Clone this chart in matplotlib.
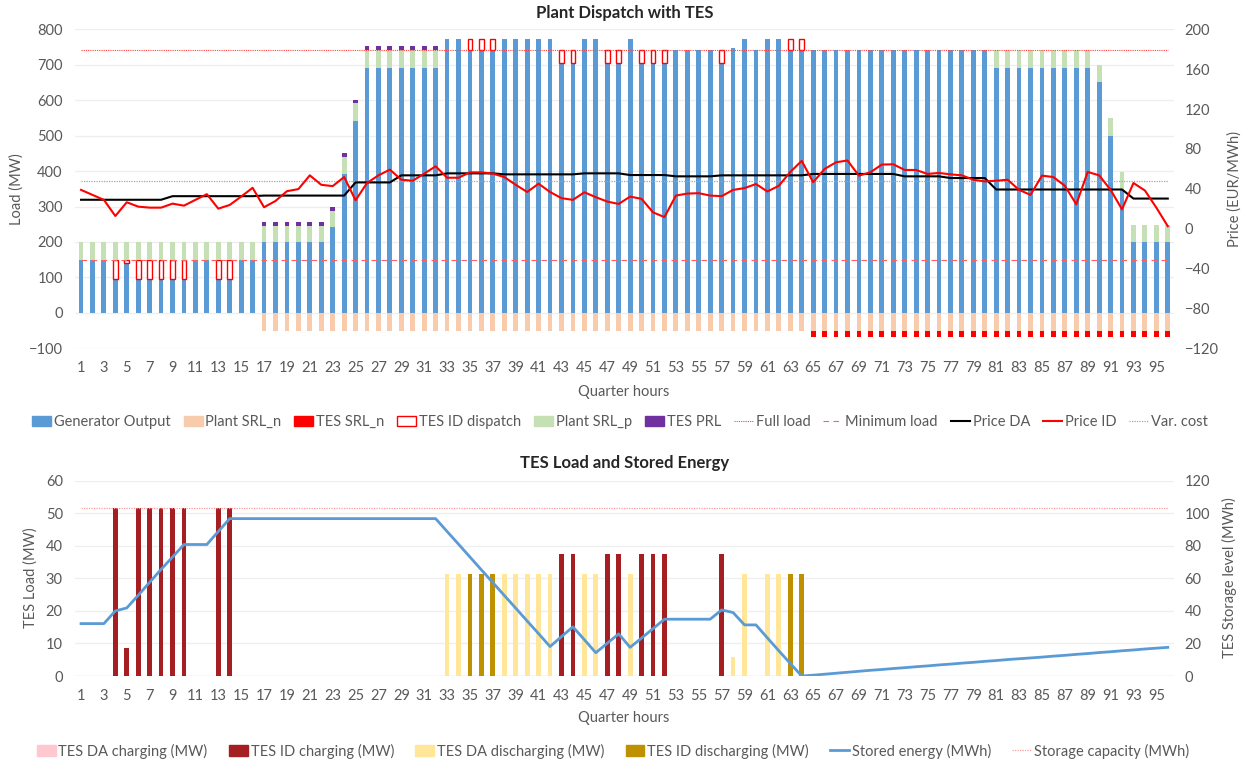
import numpy as np
import matplotlib
matplotlib.use("Agg")
import matplotlib.pyplot as plt
from matplotlib.patches import Patch
from matplotlib.lines import Line2D

plt.rcParams['font.family'] = ['Lato', 'DejaVu Sans']

# ---------------- data ----------------
hours = list(range(1, 97))
tick_labels = [str(h) for h in range(1, 97, 2)]

generator_output = ([148]*3 + [96.5] + [139.5] + [96.5]*5 + [148]*2 + [96.5]*2 + [148]*2
                    + [199]*6 + [241, 391, 541] + [691]*7
                    + [773]*2 + [742]*3 + [773]*5 + [704.5]*2 + [773]*2 + [704.5]*2
                    + [773] + [704.5]*3 + [742]*4 + [704.5] + [748] + [773] + [742]
                    + [773]*2 + [742]*18 + [691]*9 + [650, 499, 348] + [199]*4)

plant_srl_n = [0]*16 + [-50]*80
tes_srl_n = [0]*64 + [-17]*32

tes_id_dispatch = ([0]*3 + [51.6, 8.5] + [51.6]*5 + [0]*2 + [51.6]*2 + [0]*2
                   + [0]*18 + [31]*3 + [0]*5 + [37.5]*2 + [0]*2 + [37.5]*2 + [0]
                   + [37.5]*3 + [0]*4 + [37.5] + [0]*5 + [31]*2 + [0]*32)

plant_srl_p = ([51]*16 + [47]*7 + [49, 50] + [51]*7 + [0]*48 + [51]*9
               + [50, 50, 50] + [48]*4)

tes_prl = [0]*16 + [10]*16 + [0]*64

full_load = [742]*96
minimum_load = [148]*96
var_cost = [47.8]*96

price_da = ([29.0]*8 + [32.6]*8 + [33.2]*8 + [46.4]*4 + [53.5]*4 + [55.5]*5
            + [54.5]*7 + [55.5]*4 + [53.8]*4 + [52.5]*4 + [53.5]*8 + [54.9]*8
            + [52.5]*4 + [50.8]*4 + [39.3]*12 + [30.2]*4)

price_id = [38.9, 33.9, 28.9, 12.7, 26.5, 22.1, 21.1, 21.1, 25.1, 23.1,
            28.9, 34.6, 20.1, 23.8, 32.2, 41.0, 21.5, 27.8, 37.6, 39.7,
            53.5, 44.0, 42.7, 51.8, 28.5, 45.8, 53.5, 59.2, 49.1, 48.1,
            55.2, 62.6, 51.1, 51.1, 56.5, 56.5, 55.2, 51.8, 44.0, 36.8,
            45.1, 36.8, 30.6, 28.9, 36.5, 31.6, 27.2, 24.8, 32.2, 29.9,
            16.4, 11.6, 33.2, 35.2, 35.6, 33.2, 32.6, 38.9, 40.7, 44.8,
            37.3, 43.0, 56.9, 68.0, 46.6, 59.9, 66.6, 68.4, 53.2, 56.5,
            64.3, 64.6, 58.9, 58.9, 54.9, 55.9, 54.5, 53.5, 49.1, 47.4,
            48.1, 49.1, 38.9, 33.9, 53.2, 51.8, 43.0, 24.5, 56.9, 53.5,
            38.9, 19.4, 45.8, 38.3, 21.1, 2.5]

# bottom chart
tes_da_charging = [0]*96
tes_id_charging = ([0]*3 + [51.6, 8.5] + [51.6]*5 + [0]*2 + [51.6]*2 + [0]*28
                   + [37.4]*2 + [0]*2 + [37.4]*2 + [0] + [37.4]*3 + [0]*4 + [37.4] + [0]*39)
tes_da_discharging = ([0]*32 + [31.4]*2 + [0]*3 + [31.4]*5 + [0]*2 + [31.4]*2 + [0]*2
                      + [31.4] + [0]*8 + [5.8, 31.4, 0, 31.4, 31.4] + [0]*34)
tes_id_discharging = [0]*34 + [31.4]*3 + [0]*25 + [31.4]*2 + [0]*32

stored_energy = [32.2, 32.2, 32.2, 40.0, 41.8, 49.6, 57.6, 65.5, 73.1, 80.8,
                 80.8, 80.8, 88.8] + [96.7]*19 + [
                 88.8, 81.0, 73.1, 65.2, 57.4, 49.5, 41.7, 33.8, 26.0, 18.1,
                 24.2, 30.2, 22.3, 14.3, 20.1, 25.9, 17.6, 23.3, 29.1, 34.9,
                 34.9, 34.9, 34.9, 34.9, 40.6, 39.0, 31.4, 31.4, 23.4, 15.5,
                 7.7, 0.0,
                 0.5, 1.1, 1.7, 2.3, 2.9, 3.5, 4.0, 4.6, 5.1, 5.7,
                 6.2, 6.8, 7.3, 7.9, 8.4, 9.0, 9.5, 10.1, 10.6, 11.1,
                 11.6, 12.2, 12.7, 13.3, 13.8, 14.4, 14.9, 15.5, 16.0, 16.6,
                 17.1, 17.6]
storage_capacity = [103.5]*96

# ---------------- styling ----------------
C_GEN = '#5B9BD5'
C_SRLN = '#F8CBAD'
C_TSRLN = '#FF0000'
C_SRLP = '#C5E0B4'
C_PRL = '#7030A0'
C_IDCH = '#A51F22'
C_DACH = '#FFC7CE'
C_DADIS = '#FFE699'
C_IDDIS = '#BF9000'
TXT = '#595959'
GRID = '#EEEEEE'

W, H = 1249, 765
fig = plt.figure(figsize=(W/100, H/100), dpi=100)

def fx(px):
    return px / W

def fy(py):
    return 1 - py / H

x = np.array(hours)
bw = 0.42

ax1 = fig.add_axes([fx(75.3), fy(348.3), fx(1173.5 - 75.3), (348.3 - 29.3)/H])
ax1b = ax1.twinx()
ax2 = fig.add_axes([fx(75.3), fy(676), fx(1173.5 - 75.3), (676 - 480.7)/H])
ax2b = ax2.twinx()

gen = np.array(generator_output, float)
idd = np.array(tes_id_dispatch, float)
srlp = np.array(plant_srl_p, float)
prl = np.array(tes_prl, float)
srln = np.array(plant_srl_n, float)
tsrln = np.array(tes_srl_n, float)

ax1.bar(x, gen, bw, color=C_GEN, zorder=2)
ax1.bar(x, srln, bw, color=C_SRLN, zorder=2)
m = tsrln != 0
ax1.bar(x[m], tsrln[m], bw, bottom=srln[m], color=C_TSRLN, zorder=2)
m = idd > 0
ax1.bar(x[m], idd[m], bw, bottom=gen[m], facecolor='white', edgecolor='#FF0000',
        linewidth=1.0, zorder=2)
m = srlp > 0
ax1.bar(x[m], srlp[m], bw, bottom=(gen + idd)[m], color=C_SRLP, zorder=2)
m = prl > 0
ax1.bar(x[m], prl[m], bw, bottom=(gen + idd + srlp)[m], color=C_PRL, zorder=2)

ax1.plot(x, full_load, color='#FF4040', lw=0.8, ls=(0, (1, 1)), zorder=3)
ax1.plot(x, minimum_load, color='#FF6060', lw=0.8, ls=(0, (5, 4)), zorder=3)

ax1b.plot(x, var_cost, color='#A6A6A6', lw=0.9, ls=(0, (1, 1)), zorder=3)
ax1b.plot(x, price_da, color='black', lw=1.5, zorder=4)
ax1b.plot(x, price_id, color='#FF0000', lw=1.5, zorder=5)

ax1.set_xlim(0.5, 96.5)
ax1.set_ylim(-100, 800)
ax1.set_yticks(range(-100, 801, 100))
ax1b.set_ylim(-120, 200)
ax1b.set_yticks(range(-120, 201, 40))
ax1.set_xticks(range(1, 97, 2))
ax1.set_xticklabels(tick_labels)

# bottom chart
ax2.bar(x, tes_da_charging, bw, color=C_DACH, zorder=2)
ch = np.array(tes_id_charging, float)
m = ch > 0
ax2.bar(x[m], ch[m], bw, color=C_IDCH, zorder=2)
dd = np.array(tes_da_discharging, float)
m = dd > 0
ax2.bar(x[m], dd[m], bw, color=C_DADIS, zorder=2)
di = np.array(tes_id_discharging, float)
m = di > 0
ax2.bar(x[m], di[m], bw, color=C_IDDIS, zorder=2)
ax2b.plot(x, storage_capacity, color='#FF9999', lw=0.9, ls=(0, (1, 1)), zorder=3)
ax2b.plot(x, stored_energy, color=C_GEN, lw=2.0, zorder=4)

ax2.set_xlim(0.5, 96.5)
ax2.set_ylim(0, 60)
ax2.set_yticks(range(0, 61, 10))
ax2b.set_ylim(0, 120)
ax2b.set_yticks(range(0, 121, 20))
ax2.set_xticks(range(1, 97, 2))
ax2.set_xticklabels(tick_labels)

for a in (ax1, ax1b, ax2, ax2b):
    for s in a.spines.values():
        s.set_visible(False)
    a.tick_params(length=0, labelsize=10.5, labelcolor=TXT)
for a in (ax1, ax2):
    a.set_axisbelow(True)
    a.yaxis.grid(True, color=GRID, lw=0.9)
    a.tick_params(axis='x', pad=9)
    a.tick_params(axis='y', pad=9)
for a in (ax1b, ax2b):
    a.tick_params(axis='y', pad=8)
ax2.axhline(0, color='#D9D9D9', lw=0.9, zorder=1)

# texts
fig.text(0.5, fy(13), 'Plant Dispatch with TES', ha='center', va='center',
         fontsize=12, fontweight='bold', color='#262626')
fig.text(0.5, fy(463), 'TES Load and Stored Energy', ha='center', va='center',
         fontsize=12, fontweight='bold', color='#262626')
fig.text(fx(624), fy(392), 'Quarter hours', ha='center', va='center', fontsize=10.5, color=TXT)
fig.text(fx(624), fy(718), 'Quarter hours', ha='center', va='center', fontsize=10.5, color=TXT)
fig.text(fx(17), fy(189), 'Load (MW)', rotation=90, ha='center', va='center', fontsize=10.5, color=TXT)
fig.text(fx(1235), fy(189), 'Price (EUR/MWh)', rotation=90, ha='center', va='center', fontsize=10.5, color=TXT)
fig.text(fx(31), fy(578), 'TES Load (MW)', rotation=90, ha='center', va='center', fontsize=10.5, color=TXT)
fig.text(fx(1229), fy(578), 'TES Storage level (MWh)', rotation=90, ha='center', va='center', fontsize=10.5, color=TXT)

# legends
h_top = [Patch(color=C_GEN), Patch(color=C_SRLN), Patch(color=C_TSRLN),
         Patch(facecolor='white', edgecolor='#FF0000', lw=1.0),
         Patch(color=C_SRLP), Patch(color=C_PRL),
         Line2D([], [], color='#FF4040', lw=0.8, ls=(0, (1, 1))),
         Line2D([], [], color='#FF6060', lw=0.8, ls=(0, (5, 4))),
         Line2D([], [], color='black', lw=1.5),
         Line2D([], [], color='#FF0000', lw=1.5),
         Line2D([], [], color='#A6A6A6', lw=0.9, ls=(0, (1, 1)))]
l_top = ['Generator Output', 'Plant SRL_n', 'TES SRL_n', 'TES ID dispatch', 'Plant SRL_p',
         'TES PRL', 'Full load', 'Minimum load', 'Price DA', 'Price ID', 'Var. cost']
leg1 = fig.legend(h_top, l_top, loc='center', bbox_to_anchor=(fx(620), fy(422)), ncol=11,
                  frameon=False, fontsize=10.5, handlelength=1.3, handleheight=0.7,
                  handletextpad=0.2, columnspacing=0.88, labelcolor=TXT)

h_bot = [Patch(color=C_DACH), Patch(color=C_IDCH), Patch(color=C_DADIS), Patch(color=C_IDDIS),
         Line2D([], [], color=C_GEN, lw=2.0),
         Line2D([], [], color='#FF9999', lw=0.9, ls=(0, (1, 1)))]
l_bot = ['TES DA charging (MW)', 'TES ID charging (MW)', 'TES DA discharging (MW)',
         'TES ID discharging (MW)', 'Stored energy (MWh)', 'Storage capacity (MWh)']
leg2 = fig.legend(h_bot, l_bot, loc='center', bbox_to_anchor=(fx(613), fy(751)), ncol=6,
                  frameon=False, fontsize=10.5, handlelength=1.3, handleheight=0.7,
                  handletextpad=0.2, columnspacing=1.45, labelcolor=TXT)

fig.savefig('out.png', dpi=100)
